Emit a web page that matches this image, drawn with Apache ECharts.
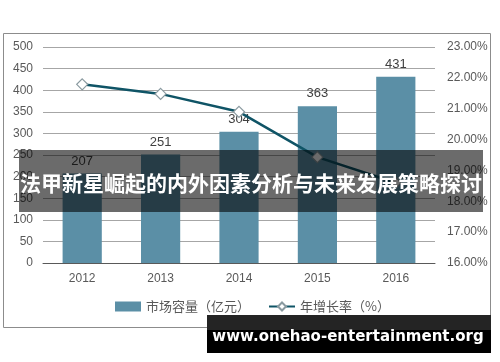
<!DOCTYPE html>
<html><head><meta charset="utf-8">
<script src="https://cdn.jsdelivr.net/npm/echarts@6/dist/echarts.min.js"></script>
<style>html,body{margin:0;padding:0;background:#fff}#c{width:500px;height:362px}</style>
</head><body><div id="c"></div>
<script>
const categories = ['2012','2013','2014','2015','2016'];
const marketSize = [207, 251, 304, 363, 431];
const growthRate = [21.79, 21.48, 20.90, 19.43, 18.6];
const barName = '市场容量（亿元）';
const lineName = '年增长率（%）';
const titleText = '法甲新星崛起的内外因素分析与未来发展策略探讨';
const siteText = 'www.onehao-entertainment.org';

const chart = echarts.init(document.getElementById('c'), null, {renderer:'canvas'});
const font = 'Liberation Sans, Arial, sans-serif';
chart.setOption({
  animation:false,
  textStyle:{fontFamily:font},
  grid:{left:43, right:65, top:47, bottom:99},
  legend:{
    bottom:44, left:110, itemGap:18, itemWidth:26, itemHeight:10,
    textStyle:{color:'#595959', fontSize:13, fontFamily:'Noto Sans CJK SC'},
    data:[{name:barName, icon:'rect'}, {name:lineName}]
  },
  xAxis:{
    type:'category', data:categories,
    axisLine:{lineStyle:{color:'#595959'}}, axisTick:{show:false},
    axisLabel:{color:'#595959', fontSize:12, margin:10}
  },
  yAxis:[
    {type:'value', min:0, max:500, interval:50,
     axisLine:{show:false}, axisTick:{show:false},
     axisLabel:{color:'#595959', fontSize:12, margin:10},
     splitLine:{lineStyle:{color:'#a6a6a6'}}},
    {type:'value', min:16, max:23, interval:1,
     axisLine:{show:false}, axisTick:{show:false},
     axisLabel:{color:'#595959', fontSize:12, margin:12, formatter:v=>v.toFixed(2)+'%'},
     splitLine:{show:false}}
  ],
  series:[
    {name:barName, type:'bar', data:marketSize, barWidth:'50%',
     itemStyle:{color:'#5b8fa6'},
     label:{show:true, position:'top', color:'#404040', fontSize:13, distance:6}},
    {name:lineName, type:'line', yAxisIndex:1, data:growthRate,
     symbol:'diamond', symbolSize:11, showAllSymbol:true,
     lineStyle:{color:'#0f5466', width:2.5},
     itemStyle:{color:'#ffffff', borderColor:'#8a9aa0', borderWidth:1.2}}
  ],
  graphic:[
    {type:'rect', shape:{x:3.5, y:33.5, width:487, height:294}, style:{fill:'none', stroke:'#8c8c8c', lineWidth:1}, z:-1, silent:true},
    {type:'rect', shape:{x:19, y:150, width:464, height:62}, style:{fill:'rgba(0,0,0,0.58)'}, z:100},
    {type:'text', x:251, y:183, z:101, style:{text:titleText, fill:'#ffffff', fontSize:21, fontWeight:'bold', fontFamily:'Noto Sans CJK SC', align:'center', verticalAlign:'middle'}},
    {type:'rect', shape:{x:207, y:315, width:284, height:38}, style:{fill:'#000000'}, z:100},
    {type:'rect', shape:{x:207, y:315, width:284, height:15}, style:{fill:'rgba(60,60,60,0.6)'}, z:100},
    {type:'text', x:348, y:337, z:101, style:{text:siteText, fill:'#ffffff', fontSize:15, fontWeight:'bold', fontFamily:'DejaVu Sans', align:'center', verticalAlign:'middle'}}
  ]
});
</script></body></html>
